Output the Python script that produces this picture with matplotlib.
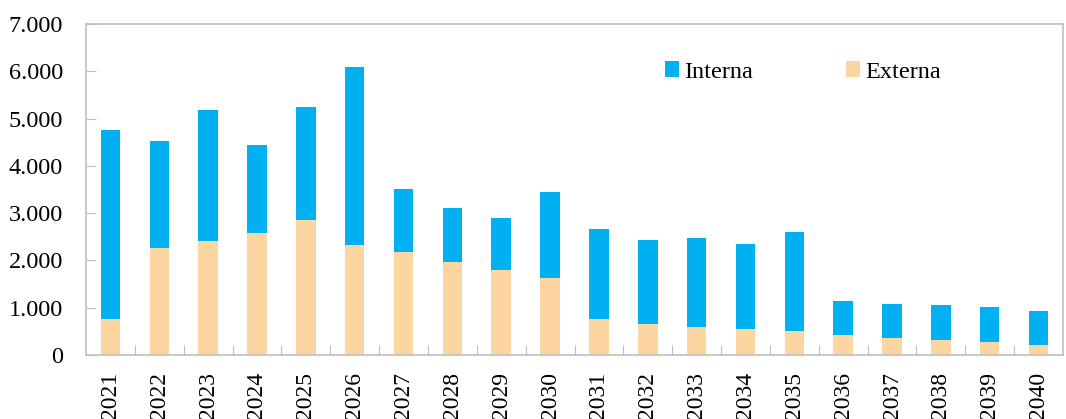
import matplotlib
matplotlib.use("Agg")
import matplotlib.pyplot as plt
from matplotlib.ticker import FuncFormatter

# --- Data ---
years = [str(y) for y in range(2021, 2041)]
externa = [768, 2254, 2415, 2585, 2859, 2331, 2176, 1965, 1803, 1627,
           768, 648, 592, 549, 507, 423, 352, 317, 275, 211]
total = [4761, 4535, 5183, 4451, 5246, 6099, 3507, 3106, 2901, 3444,
         2662, 2437, 2479, 2345, 2606, 1148, 1085, 1049, 1014, 937]
interna = [t - e for t, e in zip(total, externa)]

plt.rcParams["font.family"] = ["Liberation Serif", "DejaVu Serif"]

fig = plt.figure(figsize=(10.66, 4.19), dpi=100)
ax = fig.add_axes([86 / 1066, 64 / 419, 977 / 1066, 331 / 419])

x = range(len(years))
ax.bar(x, externa, width=0.4, color="#FDD5A0", label="Externa", zorder=2)
ax.bar(x, interna, width=0.4, bottom=externa, color="#00B0F0", label="Interna", zorder=2)

ax.set_xlim(-0.5, len(years) - 0.5)
ax.set_ylim(0, 7000)
ax.set_yticks(range(0, 7001, 1000))
ax.yaxis.set_major_formatter(FuncFormatter(lambda v, p: f"{int(v):,}".replace(",", ".")))

# ticks between categories, labels centred under bars
ax.set_xticks([i + 0.5 for i in range(len(years) - 1)])
ax.set_xticklabels([])
ax.set_xticks(list(x), minor=True)
ax.set_xticklabels(years, minor=True, rotation=90, fontsize=17)
ax.tick_params(axis="x", which="minor", length=0, pad=12)
ax.tick_params(axis="x", which="major", direction="in", length=7, color="#BFBFBF")
ax.tick_params(axis="y", direction="in", length=7, color="#BFBFBF", labelsize=17.5, pad=16.5)

for s in ax.spines.values():
    s.set_color("#BFBFBF")
    s.set_linewidth(1.2)

handles, labels = ax.get_legend_handles_labels()
ax.legend(handles[::-1], labels[::-1], loc="center", bbox_to_anchor=(0.734, 0.855),
          ncol=2, frameon=False, fontsize=17.5, handlelength=0.58, handleheight=0.58,
          handletextpad=0.22, columnspacing=3.8)

plt.savefig("out.png", dpi=100)
plt.close()
